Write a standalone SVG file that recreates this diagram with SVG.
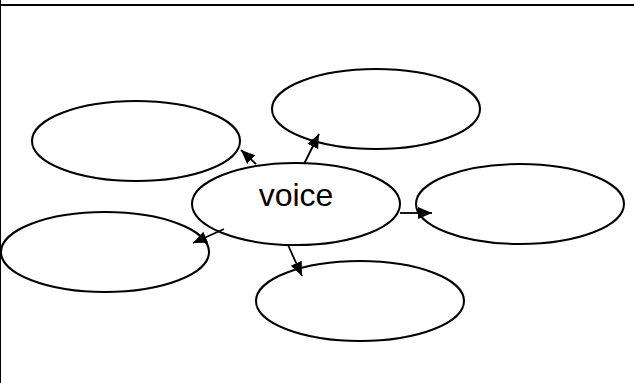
<svg xmlns="http://www.w3.org/2000/svg" width="634" height="383" viewBox="0 0 634 383">
<style>
.n{fill:#fff;stroke:#000;stroke-width:2}
.c{stroke:#000;stroke-width:1.8;fill:none;marker-end:url(#ah)}
.t{font-family:"Liberation Sans",Arial,sans-serif;font-size:32px;fill:#000}
</style>
<defs>
<marker id="ah" markerUnits="userSpaceOnUse" markerWidth="16" markerHeight="14" refX="14" refY="7" orient="auto">
<path d="M0,1 L14,7 L0,13 Z" fill="#000"/>
</marker>
</defs>
<rect width="634" height="383" fill="#fff"/>
<g id="frame">
<line x1="0" y1="5" x2="634" y2="5" stroke="#000" stroke-width="2"/>
<line x1="0.5" y1="0" x2="0.5" y2="383" stroke="#000" stroke-width="1"/>
</g>
<g id="n-topleft"><ellipse class="n" cx="136" cy="141" rx="104" ry="40"/></g>
<g id="n-top"><ellipse class="n" cx="376" cy="109" rx="104" ry="40"/></g>
<g id="n-right"><ellipse class="n" cx="520" cy="204" rx="104" ry="40"/></g>
<g id="n-left"><ellipse class="n" cx="105" cy="252" rx="104" ry="40"/></g>
<g id="n-bottom"><ellipse class="n" cx="360" cy="301" rx="104" ry="40"/></g>
<g id="n-voice"><ellipse class="n" cx="296" cy="204" rx="104" ry="41"/>
<text class="t" x="296" y="206" text-anchor="middle">voice</text></g>
<g id="connectors">
<line class="c" x1="256" y1="164" x2="241" y2="150"/>
<line class="c" x1="304" y1="164" x2="319" y2="134"/>
<line class="c" x1="400" y1="213" x2="432" y2="213"/>
<line class="c" x1="224" y1="229" x2="193" y2="243"/>
<line class="c" x1="288" y1="245" x2="302" y2="276"/>
</g>
</svg>
